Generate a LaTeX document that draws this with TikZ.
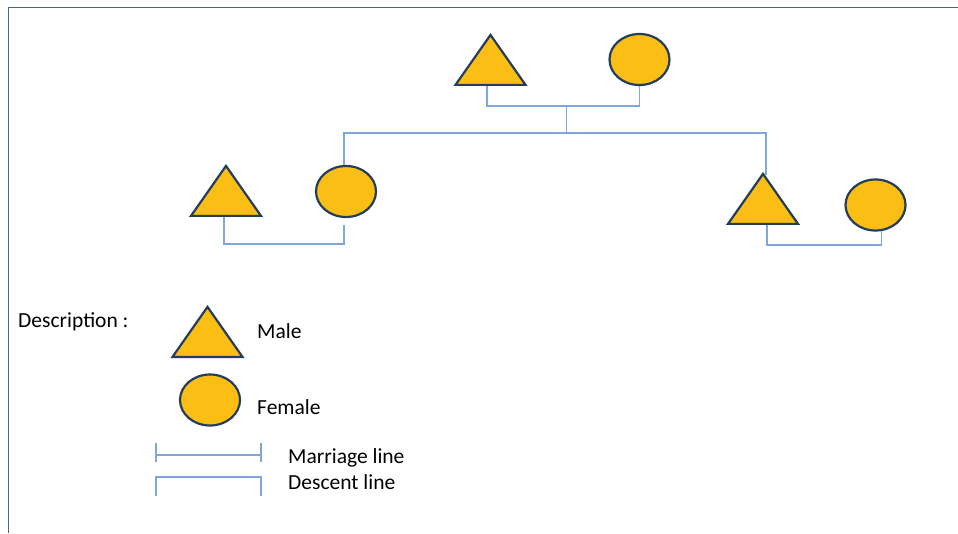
\documentclass[tikz,border=0pt]{standalone}
\usepackage{fontspec}
\setmainfont{Carlito}
\usetikzlibrary{positioning,calc,shapes.geometric}
\definecolor{gold}{HTML}{FBBE14}
\definecolor{edge}{HTML}{233E5C}
\definecolor{kin}{HTML}{7FA7DC}
\definecolor{frame}{HTML}{4A6585}
\tikzset{
  male/.style={isosceles triangle, isosceles triangle apex angle=70, shape border rotate=90, minimum height=50pt, inner sep=0pt, draw=edge, fill=gold, line width=2.2pt},
  female/.style={ellipse, minimum width=60pt, minimum height=51pt, inner sep=0pt, draw=edge, fill=gold, line width=2.2pt},
  kinline/.style={draw=kin, line width=1.4pt},
  lbl/.style={font=\fontsize{21.5}{25}\selectfont, anchor=base west, inner sep=0pt}
}
\begin{document}
\begin{tikzpicture}[x=1pt,y=-1pt]
	\useasboundingbox (0,0) rectangle (958,533);
	\draw[frame, line width=1.6pt] (8.5,533) -- (8.5,7.5) -- (958,7.5);
	% parents
	\node[male, anchor=south] (gm) at (490.5,86) {};
	\node[female] (gf) at (639.5,59.5) {};
	% children
	\node[male, anchor=south] (lm) at (226,217) {};
	\node[female] (lf) at (346,191.5) {};
	\node[male, anchor=south] (rm) at (763,225) {};
	\node[female] (rf) at (875.5,205) {};
	% lines
	\draw[kinline] ([xshift=-3.5pt]gm.south) -- ++(0,20) coordinate (gbar) -| (gf.south);
	\coordinate (gmid) at ($(gbar)!0.52!(gbar -| gf.south)$);
	\draw[kinline] (gmid) -- ++(0,27) coordinate (sib);
	\draw[kinline] ([xshift=-2pt]lf.north) -- ([xshift=-2pt]lf.north |- sib) -- ([xshift=3pt]rm.north |- sib) -- ([xshift=3pt,yshift=-3pt]rm.north);
	\draw[kinline] ([xshift=-2pt]lm.south) -- ++(0,27) -| ([xshift=-2pt,yshift=-7pt]lf.south);
	\draw[kinline] ([xshift=4pt]rm.south) -- ++(0,20) -| ([xshift=6pt,yshift=1pt]rf.south);
	% legend
	\node[lbl] (desc) at (18,327) {Description :};
	\node[male, anchor=south] (km) at (207.5,358) {};
	\node[lbl] (kml) at (257,338) {Male};
	\node[female] (kf) at (210,400) {};
	\node[lbl] (kfl) at (257,414) {Female};
	\draw[kinline] (156,443) -- (156,462) (156,455) -- (261,455) (261,443) -- (261,462);
	\node[lbl] (kmar) at (288,463) {Marriage line};
	\draw[kinline] (156,496) -- (156,477) -- (261,477) -- (261,496);
	\node[lbl] (kdes) at (288,489) {Descent line};
\end{tikzpicture}
\end{document}
